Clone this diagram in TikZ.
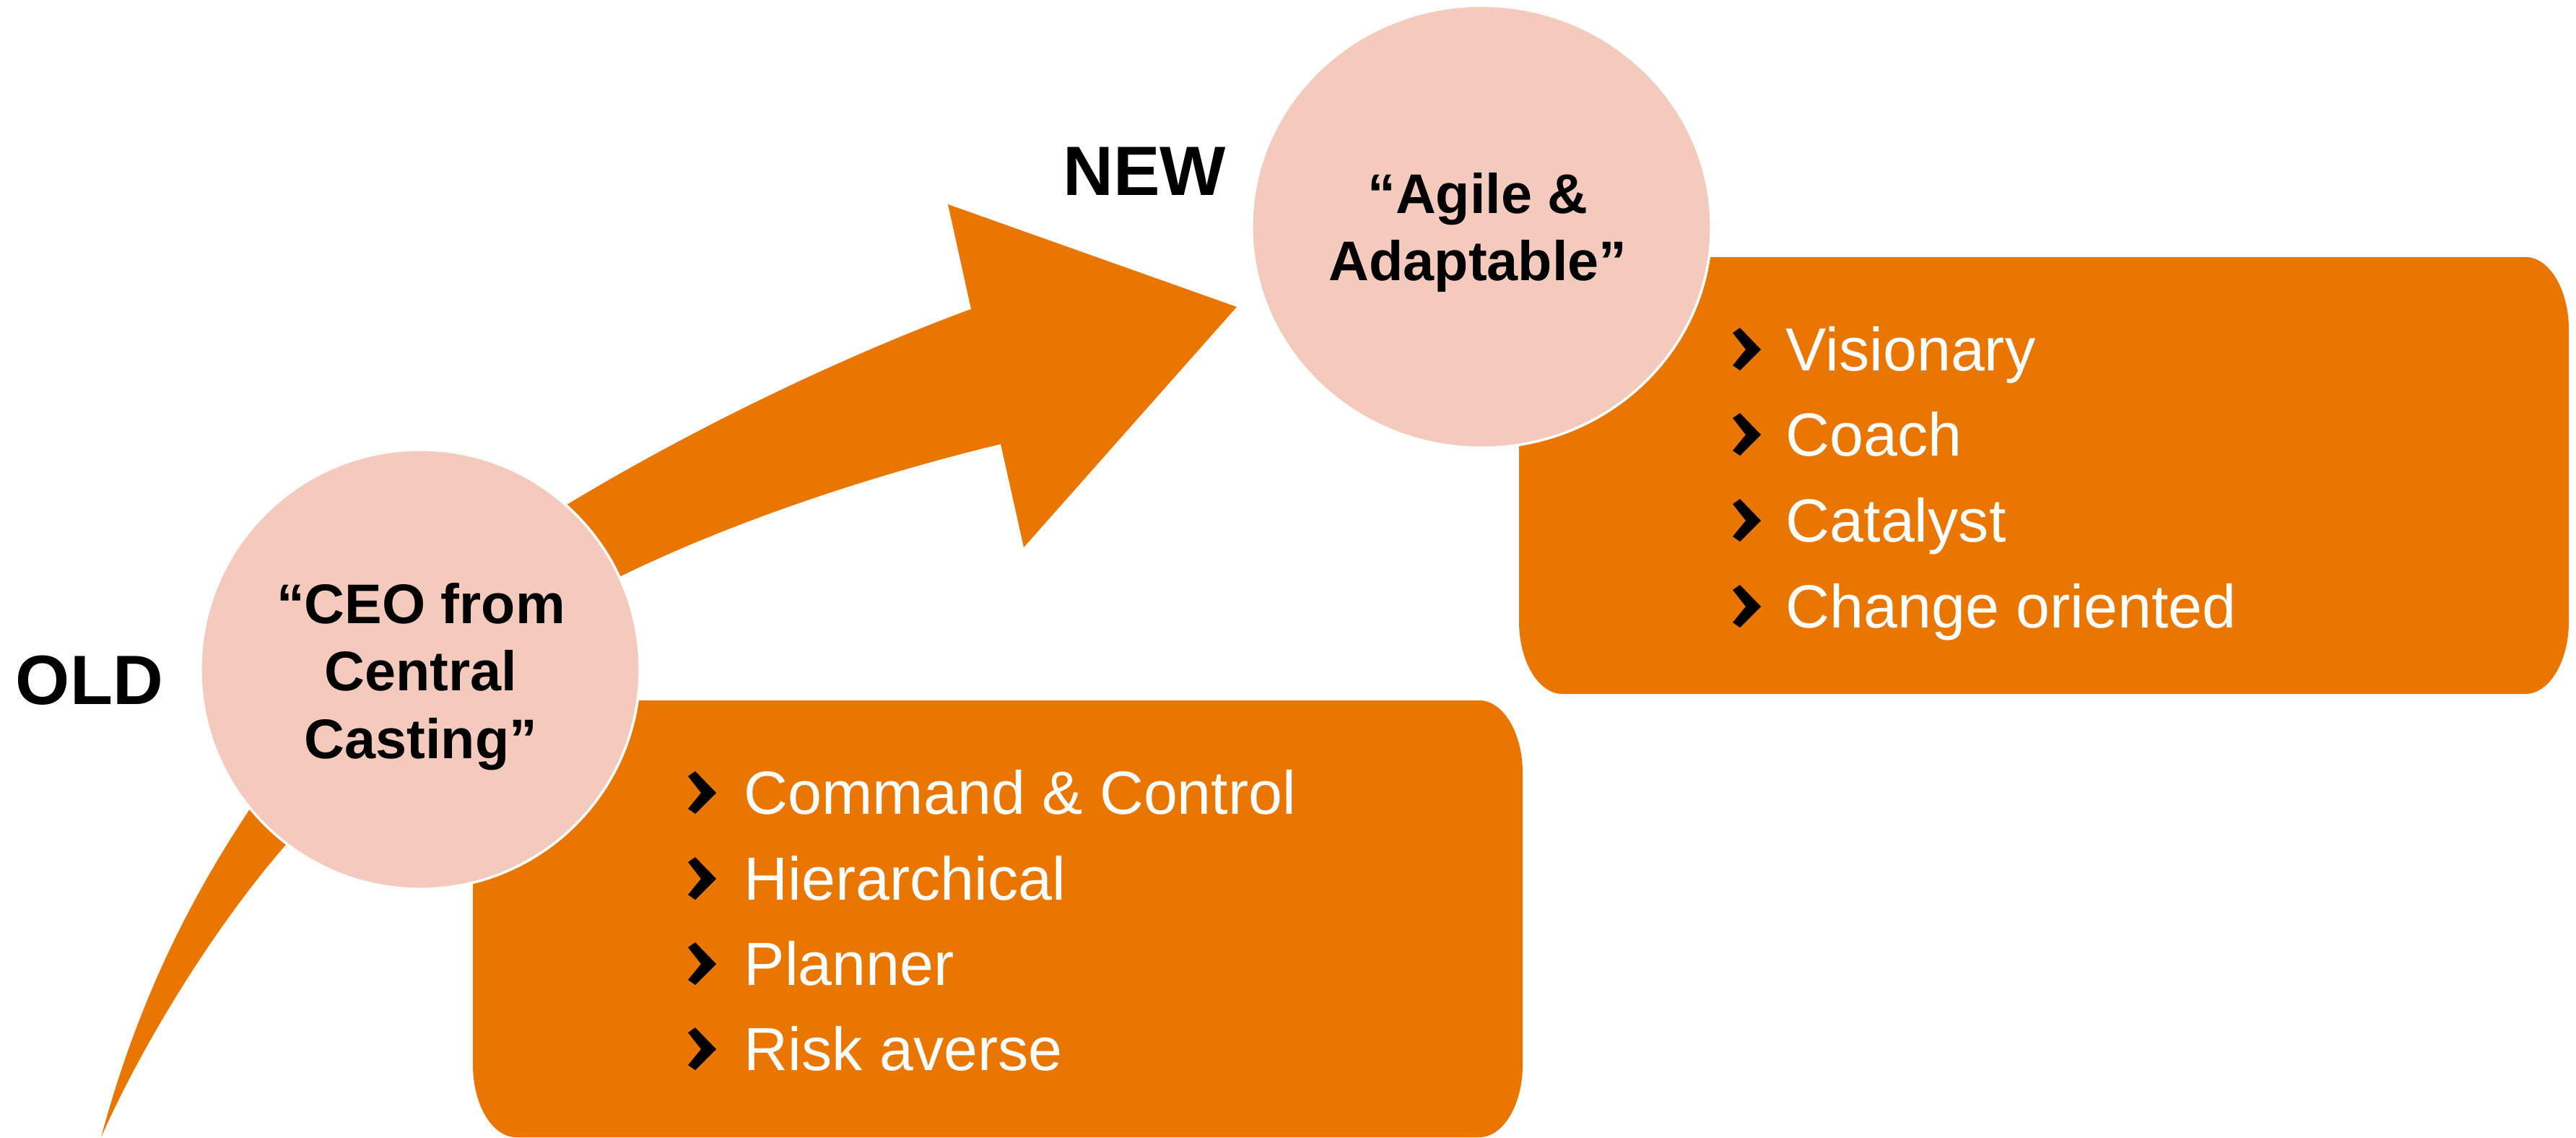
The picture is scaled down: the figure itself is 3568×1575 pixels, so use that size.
\documentclass[tikz,border=0pt]{standalone}
\usepackage{fontspec}
\setmainfont{Liberation Sans}
\usepackage{tikz}
\usetikzlibrary{shapes.geometric}
\definecolor{boxorange}{RGB}{232,118,0}
\definecolor{bubblepink}{RGB}{244,202,189}
% chevron bullet, #1 = left, #2 = baseline
\newcommand{\chev}[2]{\fill[black] (#1,#2) ++(0,-52) -- ++(10,-7) -- ++(29,30) -- ++(-29,29) -- ++(-10,-7) -- ++(18,-22) -- cycle;}
% orange panel with oval corners, #1,#2 = top left
\newcommand{\panel}[2]{\fill[panelfill] (#1+60,#2) -- (#1+1394,#2) .. controls (#1+1427,#2) and (#1+1454,#2+45) .. (#1+1454,#2+100)
	-- (#1+1454,#2+505) .. controls (#1+1454,#2+560) and (#1+1427,#2+605) .. (#1+1394,#2+605)
	-- (#1+60,#2+605) .. controls (#1+27,#2+605) and (#1,#2+560) .. (#1,#2+505)
	-- (#1,#2+100) .. controls (#1,#2+45) and (#1+27,#2) .. (#1+60,#2) -- cycle;}
\tikzset{
	panelfill/.style={fill=boxorange},
	bubble/.style={fill=bubblepink, draw=white, line width=1pt, inner sep=0},
	bubbletext/.style={align=center, inner sep=0, font=\bfseries\fontsize{22}{26.5}\selectfont},
	era/.style={anchor=base, inner sep=0, font=\bfseries\fontsize{27.5}{33}\selectfont},
	item/.style={anchor=base west, inner sep=0, text=white, font=\fontsize{24}{28}\selectfont}
}

\begin{document}
\begin{tikzpicture}[x=0.01cm, y=-0.01cm]
	\useasboundingbox (0,0) rectangle (3568,1575);
	% arrows
	\fill[boxorange] (140,1575) .. controls (190,1390) and (260,1250) .. (345,1122) -- (400,1060) -- (440,1120) -- (395,1171) .. controls (300,1280) and (200,1440) .. (140,1575) -- cycle;
	\fill[boxorange] (685,762) .. controls (900,620) and (1150,500) .. (1345,428) -- (1313,283) -- (1713,425) -- (1418,758) -- (1386,615) .. controls (1200,660) and (950,740) .. (762,850) -- cycle;
	% panels
	\panel{655}{970}
	\panel{2104}{356}
	% bubbles
	\node[bubble, circle, minimum size=6.08cm] (oldbubble) at (582,927) {};
	\node[bubble, ellipse, minimum width=6.36cm, minimum height=6.12cm] (newbubble) at (2052,314) {};
	\node[bubbletext] (oldtext) at (583,937) {“CEO from\\Central\\Casting”};
	\node[bubbletext] (newtext) at (2047,322) {“Agile \&\\Adaptable”};
	\node[era] (old) at (124,975) {OLD};
	\node[era] (new) at (1585,270) {NEW};
	% old traits
	\chev{953}{1127} \chev{953}{1246} \chev{953}{1364} \chev{953}{1482}
	\node[item] (command) at (1030,1127) {Command \& Control};
	\node[item] (hier) at (1030,1246) {Hierarchical};
	\node[item] (planner) at (1030,1364) {Planner};
	\node[item] (risk) at (1030,1482) {Risk averse};
	% new traits
	\chev{2400}{513} \chev{2400}{631} \chev{2400}{750} \chev{2400}{869}
	\node[item] (vision) at (2473,513) {Visionary};
	\node[item] (coach) at (2473,631) {Coach};
	\node[item] (catalyst) at (2473,750) {Catalyst};
	\node[item] (change) at (2473,869) {Change oriented};
\end{tikzpicture}
\end{document}
